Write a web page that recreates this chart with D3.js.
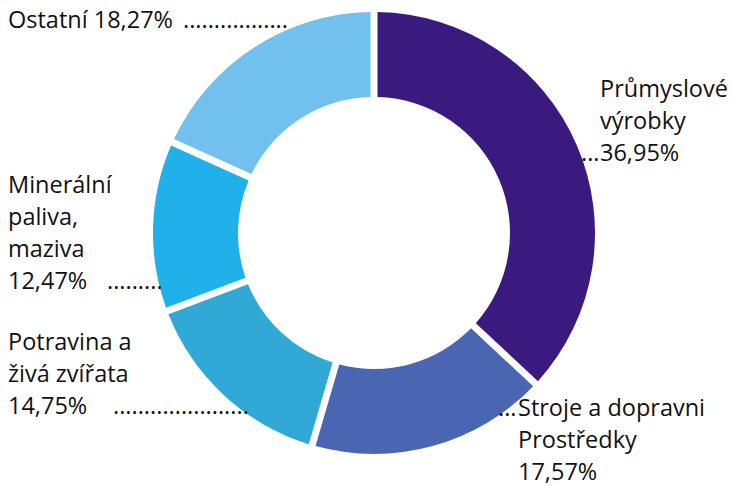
<!DOCTYPE html>
<html>
<head>
<meta charset="utf-8">
<script src="https://cdn.jsdelivr.net/npm/d3@7"></script>
<style>
  body { margin: 0; background: #fff; }
  text { font-family: "Open Sans", sans-serif; fill: #111; }
</style>
</head>
<body>
<div id="chart"></div>
<script>
// order is clockwise from 12 o'clock
var categories = ['Průmyslové výrobky', 'Stroje a dopravni Prostředky', 'Potravina a živá zvířata', 'Minerální paliva, maziva', 'Ostatní'];
var values = [36.95, 17.57, 14.75, 12.47, 18.27];
var colors = ['#3b1a80', '#4a66b2', '#31a9d6', '#20b0ea', '#72c0ee'];

// label lines as printed next to the ring
var labelLines = [
  ['Průmyslové', 'výrobky', '36,95%'],
  ['Stroje a dopravni', 'Prostředky', '17,57%'],
  ['Potravina a', 'živá zvířata', '14,75%'],
  ['Minerální', 'paliva,', 'maziva', '12,47%'],
  ['Ostatní 18,27%']
];
// dotted leaders: number of dots per label
var leaderDots = [3, 3, 22, 9, 17];

var width = 733,
    height = 486,
    cx = 374,
    cy = 233,
    outer = 221,
    inner = 136;

// x, first baseline, leader x, which line holds the leader
var labelPos = [
  { x: 600, y: 97, lx: 581, line: 2 },
  { x: 518, y: 416, lx: 498, line: 0 },
  { x: 8, y: 350, lx: 113, line: 2 },
  { x: 8, y: 193, lx: 107, line: 3 },
  { x: 8, y: 28, lx: 183, line: 0 }
];
var lineHeight = 32;

var svg = d3.select('#chart').append('svg')
  .attr('width', width)
  .attr('height', height);

var pie = d3.pie()
  .sort(null)
  .value(function(d) { return d; });

var arc = d3.arc()
  .innerRadius(inner)
  .outerRadius(outer)
  .padRadius(outer)
  .padAngle(7 / outer);

var g = svg.append('g')
  .attr('transform', 'translate(' + cx + ',' + cy + ')');

g.selectAll('path')
  .data(pie(values))
  .enter().append('path')
    .attr('d', arc)
    .style('fill', function(d, i) { return colors[i]; });

var labels = svg.selectAll('text.lbl')
  .data(categories)
  .enter().append('text')
    .attr('class', 'lbl')
    .style('font-size', '23.5px');

labels.each(function(d, i) {
  var t = d3.select(this);
  var p = labelPos[i];
  labelLines[i].forEach(function(line, j) {
    t.append('tspan')
      .attr('x', p.x)
      .attr('y', p.y + j * lineHeight)
      .text(line);
  });
  t.append('tspan')
    .attr('x', p.lx)
    .attr('y', p.y + p.line * lineHeight)
    .text(d3.range(leaderDots[i]).map(function() { return '.'; }).join(''));
});
</script>
</body>
</html>
